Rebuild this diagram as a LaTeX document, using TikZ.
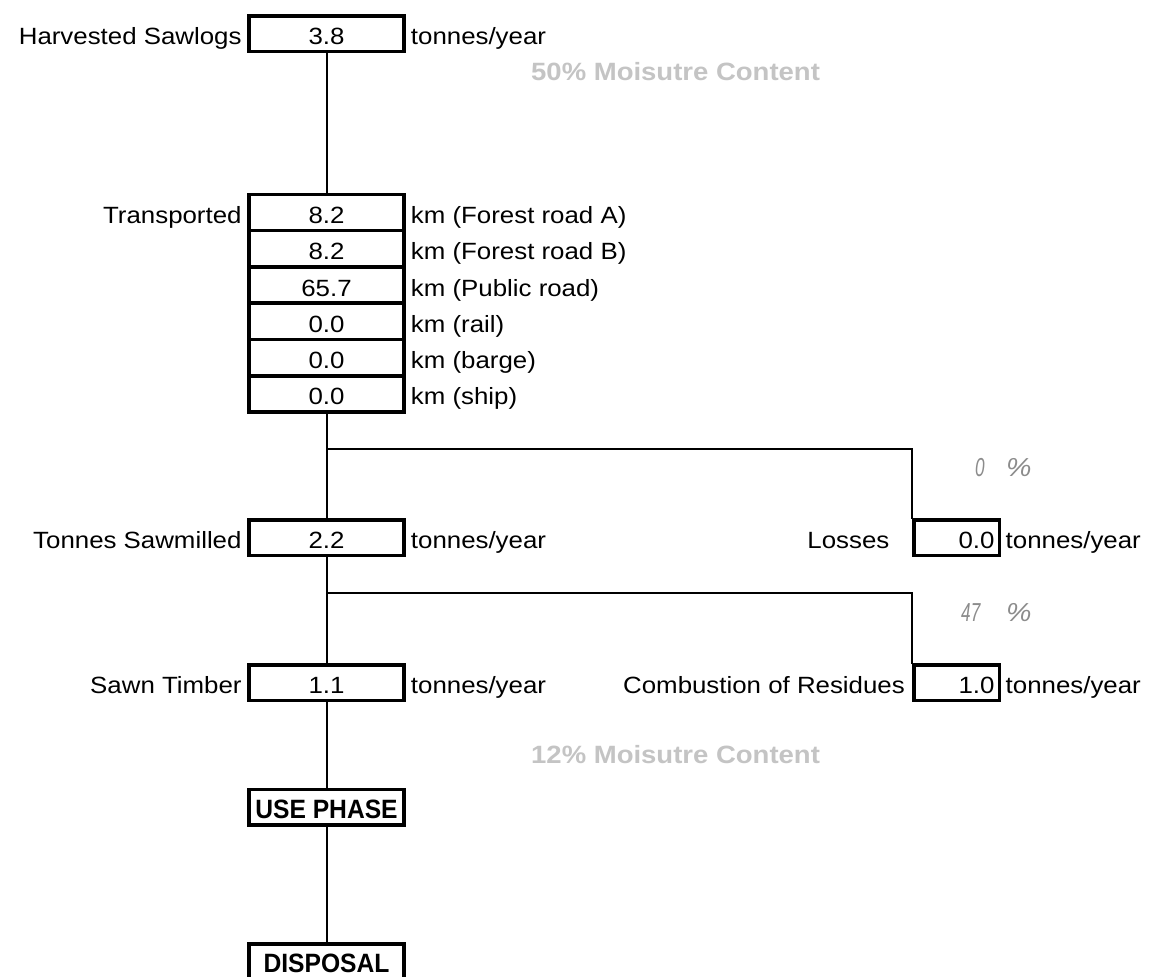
\documentclass[tikz,border=0pt]{standalone}
\usepackage{graphicx}
\usepackage{fontspec}
\setmainfont{Liberation Sans}[FakeStretch=1.1]
\newfontfamily\headfont{Liberation Sans}[FakeStretch=0.93]
\usetikzlibrary{calc}

\definecolor{pctgray}{HTML}{8C8C8C}
\definecolor{moistgray}{HTML}{C4C4C4}

\newcommand{\mainsz}{\fontsize{23.5}{28}\selectfont}
\newcommand{\moistsz}{\fontsize{25}{30}\selectfont}
\newcommand{\headsz}{\fontsize{26.5}{30}\selectfont}
\newcommand{\pctsz}{\fontsize{26}{30}\selectfont}
\newcommand{\narrow}[1]{\scalebox{0.6}[1]{#1}}

\tikzset{
  valbox/.style={draw, fill=white, line width=3.5pt, minimum width=155pt,
    minimum height=35.5pt, inner sep=0pt, text height=22pt, text depth=0pt,
    font=\mainsz},
  rowbox/.style={valbox, minimum height=36.3pt},
  sidebox/.style={valbox, minimum width=85.5pt},
  headbox/.style={valbox, font=\headsz\headfont\bfseries},
  lbl/.style={inner sep=0pt, font=\mainsz},
  pct/.style={inner sep=0pt, text=pctgray, font=\pctsz\itshape},
  moist/.style={inner sep=0pt, text=moistgray, font=\moistsz\bfseries},
  link/.style={line width=2pt, line cap=rect},
}

\begin{document}
\begin{tikzpicture}[x=1pt, y=-1pt]
  \useasboundingbox (0,0) rectangle (1151,977);
  \fill[white] (0,0) rectangle (1151,977);
  \clip (0,0) rectangle (1151,977);

  % main chain of boxes
  \node[valbox] (harv) at (326.5,33.5) {3.8};

  \node[rowbox] (r1) at (326.5,212.45) {8.2};
  \node[rowbox] (r2) at (326.5,248.75) {8.2};
  \node[rowbox] (r3) at (326.5,285.05) {65.7};
  \node[rowbox] (r4) at (326.5,321.35) {0.0};
  \node[rowbox] (r5) at (326.5,357.65) {0.0};
  \node[rowbox] (r6) at (326.5,393.95) {0.0};

  \node[valbox] (saw) at (326.5,537.5) {2.2};
  \node[valbox] (timber) at (326.5,682.5) {1.1};
  \node[headbox] (use) at (326.5,807) {USE PHASE};
  \node[headbox] (disp) at (326.5,961.5) {DISPOSAL};

  % side branches
  \node[sidebox] (loss) at (956.5,537.5) {\makebox[76pt][r]{0.0}};
  \node[sidebox] (comb) at (956.5,682.5) {\makebox[76pt][r]{1.0}};

  \coordinate (b1) at (326.5,449);
  \coordinate (b2) at (326.5,593);

  % connectors
  \draw[link] (harv.south) -- (r1.north);
  \draw[link] (r6.south) -- (saw.north);
  \draw[link] (b1) -| (loss.north west);
  \draw[link] (saw.south) -- (timber.north);
  \draw[link] (b2) -| (comb.north west);
  \draw[link] (timber.south) -- (use.north);
  \draw[link] (use.south) -- (disp.north);

  % labels left of the boxes
  \node[lbl, anchor=base east] (harvL) at ([xshift=-5.5pt]harv.base west) {Harvested Sawlogs};
  \node[lbl, anchor=base east] (transL) at ([xshift=-5.5pt]r1.base west) {Transported};
  \node[lbl, anchor=base east] (sawL) at ([xshift=-5.5pt]saw.base west) {Tonnes Sawmilled};
  \node[lbl, anchor=base east] (timberL) at ([xshift=-5.5pt]timber.base west) {Sawn Timber};
  \node[lbl, anchor=base east] (lossL) at ([xshift=-22.5pt]loss.base west) {Losses};
  \node[lbl, anchor=base east] (combL) at ([xshift=-7pt]comb.base west) {Combustion of Residues};

  % units right of the boxes
  \node[lbl, anchor=base west] (harvU) at ([xshift=5pt]harv.base east) {tonnes/year};
  \node[lbl, anchor=base west] (r1U) at ([xshift=5pt]r1.base east) {km (Forest road A)};
  \node[lbl, anchor=base west] (r2U) at ([xshift=5pt]r2.base east) {km (Forest road B)};
  \node[lbl, anchor=base west] (r3U) at ([xshift=5pt]r3.base east) {km (Public road)};
  \node[lbl, anchor=base west] (r4U) at ([xshift=5pt]r4.base east) {km (rail)};
  \node[lbl, anchor=base west] (r5U) at ([xshift=5pt]r5.base east) {km (barge)};
  \node[lbl, anchor=base west] (r6U) at ([xshift=5pt]r6.base east) {km (ship)};
  \node[lbl, anchor=base west] (sawU) at ([xshift=5pt]saw.base east) {tonnes/year};
  \node[lbl, anchor=base west] (timberU) at ([xshift=5pt]timber.base east) {tonnes/year};
  \node[lbl, anchor=base west] (lossU) at ([xshift=4.5pt]loss.base east) {tonnes/year};
  \node[lbl, anchor=base west] (combU) at ([xshift=4.5pt]comb.base east) {tonnes/year};

  % split percentages
  \node[pct, anchor=base west] (p0) at (975,476.7) {\narrow{0}};
  \node[pct, anchor=base west] (p0s) at (1006,476.7) {\%};
  \node[pct, anchor=base west] (p47) at (961,621) {\narrow{47}};
  \node[pct, anchor=base west] (p47s) at (1006,621) {\%};

  % moisture notes
  \node[moist, anchor=base west] (m50) at (531,80.7) {50\% Moisutre Content};
  \node[moist, anchor=base west] (m12) at (531,763.3) {12\% Moisutre Content};
\end{tikzpicture}
\end{document}
